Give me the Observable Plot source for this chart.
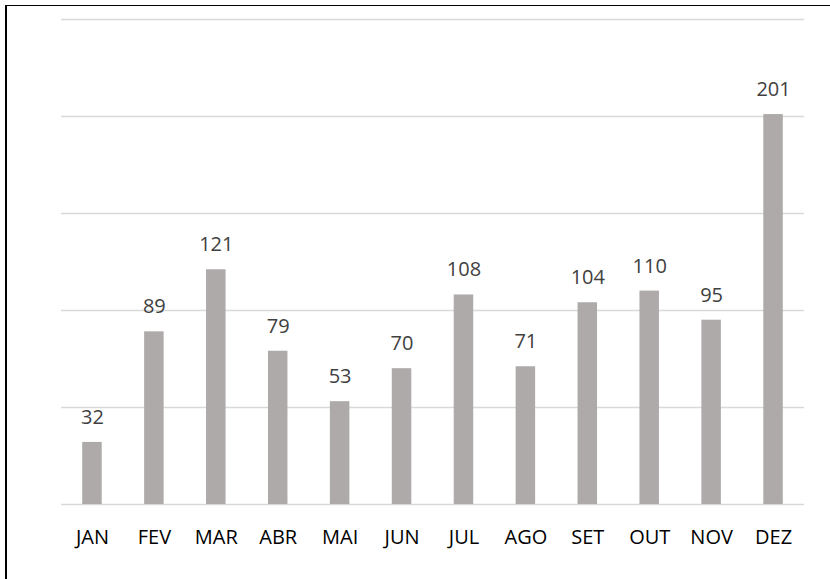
<!DOCTYPE html>
<html><head><meta charset="utf-8">
<script src="https://cdn.jsdelivr.net/npm/d3@7"></script>
<script src="https://cdn.jsdelivr.net/npm/@observablehq/plot@0.6"></script>
<style>
html,body{margin:0;padding:0;background:#fff;}
#wrap{position:relative;width:830px;height:579px;overflow:hidden;}
#border{position:absolute;left:5px;top:5px;width:900px;height:700px;border-left:2px solid #000;border-top:1.5px solid #000;pointer-events:none;}
</style></head>
<body><div id="wrap"><div id="border"></div></div>
<script>
const months = ["JAN","FEV","MAR","ABR","MAI","JUN","JUL","AGO","SET","OUT","NOV","DEZ"];
const values = [32,89,121,79,53,70,108,71,104,110,95,201];
const gridTicks = [0,50,100,150,200,250];
const data = months.map((m,i)=>({month:m,value:values[i]}));
const font = "Open Sans, Liberation Sans, sans-serif";
const chart = Plot.plot({
  width: 830, height: 579,
  marginLeft: 61, marginRight: 26, marginTop: 19, marginBottom: 75,
  style: {fontFamily: font, background: "transparent"},
  x: {domain: months, paddingInner: 0.685, paddingOuter: 0.3425, round: false, label: null},
  y: {domain: [0,250], label: null},
  marks: [
    Plot.ruleY(gridTicks, {stroke: "#d9d9d9", strokeWidth: 1.5}),
    Plot.barY(data, {x: "month", y: "value", fill: "#aeaaaa"}),
    Plot.text(data, {x: "month", y: "value", text: d => String(d.value), dy: -25, fontSize: 20, fill: "#404040"}),
    Plot.axisX({tickSize: 0, tickPadding: 25, fontSize: 20, fill: "#000"}),
    Plot.axisY({ticks: [], tickSize: 0, label: null})
  ]
});
chart.style.position = "absolute"; chart.style.left = "0"; chart.style.top = "0";
document.getElementById("wrap").prepend(chart);
</script></body></html>
